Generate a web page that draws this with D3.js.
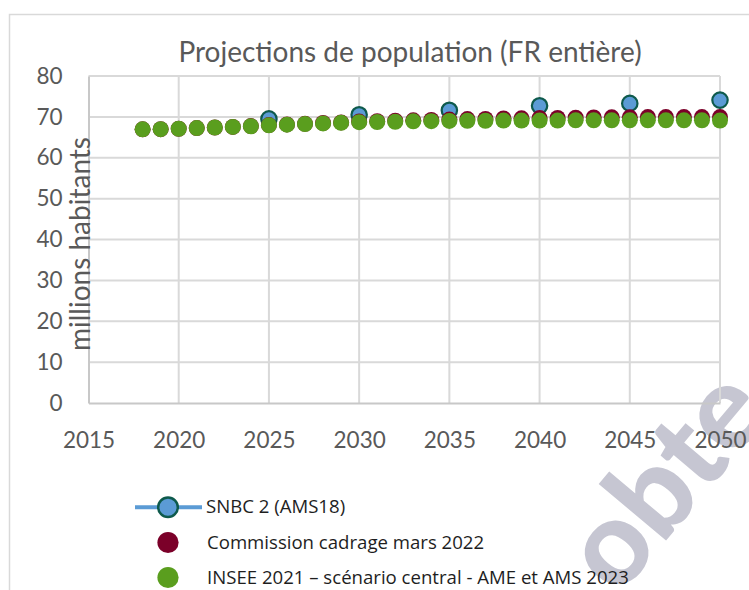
<!DOCTYPE html>
<html>
<head>
<meta charset="utf-8">
<script src="https://cdn.jsdelivr.net/npm/d3@7"></script>
<style>
  html, body { margin: 0; padding: 0; background: #ffffff; }
  svg { display: block; }
</style>
</head>
<body>
<svg id="chart" width="749" height="590"></svg>
<script>
// ---- Data ----
const years = d3.range(2018, 2051);
const inseeValues = [66.95, 67.0, 67.1, 67.25, 67.4, 67.55, 67.7, 67.95, 68.1, 68.25, 68.4, 68.55, 68.7, 68.75, 68.8, 68.9, 68.95,
  69.0, 69.05, 69.05, 69.1, 69.1, 69.1, 69.1, 69.15, 69.15, 69.15, 69.15, 69.15, 69.15, 69.15, 69.15, 69.1];
const commissionValues = [66.95, 67.0, 67.1, 67.25, 67.4, 67.55, 67.75, 68.0, 68.15, 68.3, 68.5, 68.65, 68.85, 68.95, 69.05, 69.15, 69.25,
  69.35, 69.45, 69.5, 69.6, 69.65, 69.7, 69.75, 69.8, 69.85, 69.9, 69.9, 69.95, 69.95, 69.95, 69.95, 69.95];
const snbcYears = [2025, 2030, 2035, 2040, 2045, 2050];
const snbcValues = [69.5, 70.5, 71.6, 72.7, 73.3, 74.1];
const xTicks = [2015, 2020, 2025, 2030, 2035, 2040, 2045, 2050];
const yTicks = [0, 10, 20, 30, 40, 50, 60, 70, 80];
const seriesNames = ["SNBC 2 (AMS18)", "Commission cadrage mars 2022", "INSEE 2021 – scénario central - AME et AMS 2023"];
const titleText = "Projections de population (FR entière)";
const yAxisTitle = "millions habitants";
const watermarkText = "obte";

// ---- Styles ----
const C = { blue: "#5b9bd5", blueStroke: "#0e5a4c", red: "#7b0029", green: "#5a9e1e", grid: "#d9d9d9", text: "#595959" };
const svg = d3.select("#chart");

const x = d3.scaleLinear().domain([2015, 2050]).range([88.5, 720]);
const y = d3.scaleLinear().domain([0, 80]).range([403, 76]);

// watermark (behind)
svg.append("text")
  .attr("transform", "translate(618,598) rotate(-50)")
  .attr("font-family", "Lato").attr("font-weight", 900).attr("font-size", 118)
  .attr("fill", "#c6c6d2").text(watermarkText);

// outer frame
svg.append("rect").attr("x", 9.5).attr("y", 14.5).attr("width", 760).attr("height", 600)
  .attr("fill", "none").attr("stroke", C.grid).attr("stroke-width", 1.5);

// gridlines
svg.append("g").selectAll("line").data(yTicks.filter(d => d > 0)).join("line")
  .attr("x1", x(2015)).attr("x2", x(2050)).attr("y1", d => y(d)).attr("y2", d => y(d))
  .attr("stroke", C.grid).attr("stroke-width", 2);
svg.append("g").selectAll("line").data(xTicks.filter(d => d > 2015)).join("line")
  .attr("y1", y(0)).attr("y2", y(80)).attr("x1", d => x(d)).attr("x2", d => x(d))
  .attr("stroke", C.grid).attr("stroke-width", 2);

// axes via d3
const yAxis = svg.append("g").attr("transform", `translate(${x(2015)},0)`)
  .call(d3.axisLeft(y).tickValues(yTicks).tickSize(0).tickPadding(26));
const xAxis = svg.append("g").attr("transform", `translate(0,${y(0)})`)
  .call(d3.axisBottom(x).tickValues(xTicks).tickFormat(d3.format("d")).tickSize(0).tickPadding(29));
[yAxis, xAxis].forEach(g => {
  g.select(".domain").attr("stroke", "#c8c8c8").attr("stroke-width", 2);
  g.selectAll("text").attr("font-family", "Lato").attr("font-size", 22.5).attr("fill", C.text);
});

// title
svg.append("text").attr("x", 410).attr("y", 62).attr("text-anchor", "middle")
  .attr("font-family", "Lato").attr("font-size", 28).attr("fill", C.text).text(titleText);

// y axis title
svg.append("text").attr("transform", "translate(90,244) rotate(-90)").attr("text-anchor", "middle")
  .attr("font-family", "Lato").attr("font-size", 28).attr("fill", C.text).text(yAxisTitle);

// series markers: blue, red, green (green on top)
svg.append("g").selectAll("circle").data(snbcYears.map((yr, i) => [yr, snbcValues[i]])).join("circle")
  .attr("cx", d => x(d[0])).attr("cy", d => y(d[1])).attr("r", 7.7)
  .attr("fill", C.blue).attr("stroke", C.blueStroke).attr("stroke-width", 2.2);
svg.append("g").selectAll("circle").data(years.map((yr, i) => [yr, commissionValues[i]])).join("circle")
  .attr("cx", d => x(d[0])).attr("cy", d => y(d[1])).attr("r", 8).attr("fill", C.red);
svg.append("g").selectAll("circle").data(years.map((yr, i) => [yr, inseeValues[i]])).join("circle")
  .attr("cx", d => x(d[0])).attr("cy", d => y(d[1])).attr("r", 8).attr("fill", C.green);

// legend
const leg = svg.append("g");
const rows = [507.3, 542.5, 577.5];
leg.append("line").attr("x1", 135).attr("x2", 202).attr("y1", rows[0]).attr("y2", rows[0])
  .attr("stroke", C.blue).attr("stroke-width", 4);
leg.append("circle").attr("cx", 168).attr("cy", rows[0]).attr("r", 9.8)
  .attr("fill", C.blue).attr("stroke", C.blueStroke).attr("stroke-width", 2.5);
leg.append("circle").attr("cx", 168).attr("cy", rows[1]).attr("r", 10.6).attr("fill", C.red);
leg.append("circle").attr("cx", 168).attr("cy", rows[2]).attr("r", 10.6).attr("fill", C.green);
seriesNames.forEach((n, i) => {
  leg.append("text").attr("x", i === 0 ? 206 : 207).attr("y", rows[i] + 6)
    .attr("font-family", "Open Sans").attr("font-size", 18.6).attr("fill", "#1e1e1e").text(n);
});
</script>
</body>
</html>
